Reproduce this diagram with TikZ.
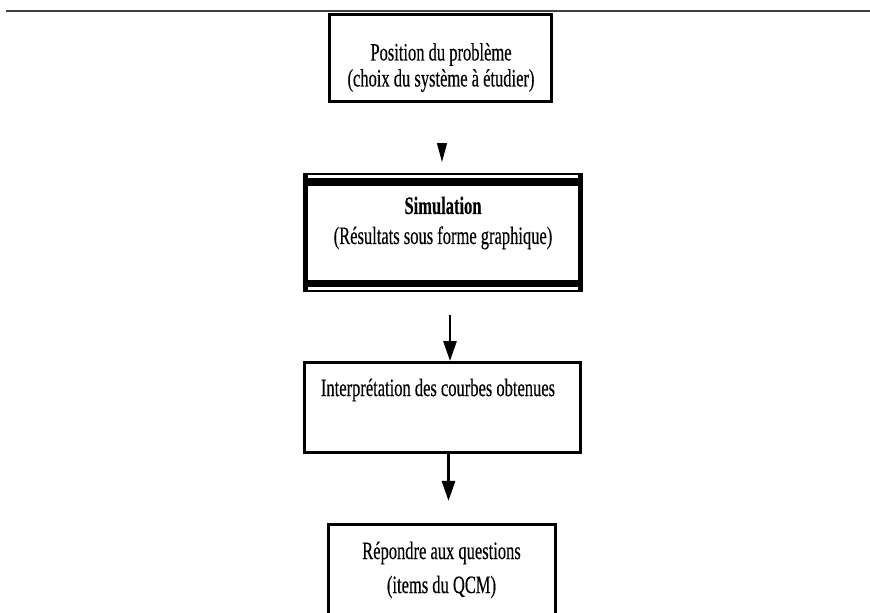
\documentclass[tikz,border=0pt]{standalone}
\usepackage{fontspec}
\setmainfont{Liberation Serif}[FakeStretch=0.66, FakeBold=0.3]
\usetikzlibrary{arrows.meta,calc}
\tikzset{
  box/.style={draw, line width=2.6pt, inner sep=0pt},
  txt/.style={align=center, font=\fontsize{25}{26}\selectfont},
  flow/.style={line width=2.8pt, -{Triangle[length=20pt,width=13pt]}},
}
\begin{document}
\begin{tikzpicture}[x=1pt,y=-1pt]
      \useasboundingbox (0,0) rectangle (870,613);
      \clip (0,0) rectangle (870,613);
      \coordinate (rl) at (6,11);
      \coordinate (rr) at (870,11);
      \draw[black!75, line width=2pt] (rl) -- (rr);
      % boxes
      \node[box, minimum width=222.5pt, minimum height=87.5pt] (pos) at (440.5,58) {};
      \node[minimum width=280pt, minimum height=119pt, inner sep=0pt, outer sep=0pt] (sim) at (443,232.5) {};
      \node[box, line width=3pt, minimum width=276pt, minimum height=90pt] (int) at (442.5,407.5) {};
      \node[box, minimum width=227.5pt, minimum height=124.5pt] (rep) at (442,586.5) {};
      % frame of the simulation box
      \begin{scope}[line cap=butt]
        \draw[line width=2pt] ($(sim.north west)+(0,1)$) -- ($(sim.north east)+(0,1)$);
        \draw[line width=8pt] ($(sim.north west)+(0,9)$) -- ($(sim.north east)+(0,9)$);
        \draw[line width=7pt] ($(sim.south west)+(0,-8.5)$) -- ($(sim.south east)+(0,-8.5)$);
        \draw[line width=2pt] ($(sim.south west)+(0,-1)$) -- ($(sim.south east)+(0,-1)$);
        \draw[line width=5pt] ($(sim.north west)+(2.5,0)$) -- ($(sim.south west)+(2.5,0)$);
        \draw[line width=5pt] ($(sim.north east)+(-2.5,0)$) -- ($(sim.south east)+(-2.5,0)$);
      \end{scope}
      % texts
      \node[txt] (posT) at (441,67.5) {Position du problème\\(choix du système à étudier)};
      \node[txt, font=\fontsize{25}{30}\selectfont] (simT) at (443,223) {\textbf{Simulation}\\(Résultats sous forme graphique)};
      \node[txt] (intT) at (438,390) {Interprétation des courbes obtenues};
      \node[txt, font=\fontsize{25}{34}\selectfont] (repT) at (441.5,570) {Répondre aux questions\\(items du QCM)};
      % arrows
      \coordinate (c1) at (442,0);
      \coordinate (c2) at (450,0);
      \coordinate (c3) at (448.5,0);
      \draw[line width=1pt, -{Triangle[length=19pt,width=10pt]}, shorten <=40pt, shorten >=11pt]
        (pos.south -| c1) -- (sim.north -| c1);
      \draw[flow, shorten <=23pt] (sim.south -| c2) -- (int.north -| c2);
      \draw[flow, shorten >=22pt] (int.south -| c3) -- (rep.north -| c3);
\end{tikzpicture}
\end{document}
